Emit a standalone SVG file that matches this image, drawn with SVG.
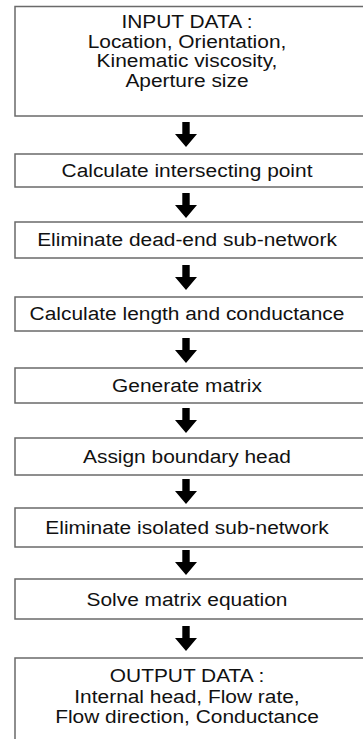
<svg xmlns="http://www.w3.org/2000/svg" xmlns:xlink="http://www.w3.org/1999/xlink" width="363" height="739" viewBox="0 0 363 739">
<style>
.box{fill:#fff;stroke:#6a6a6a;stroke-width:1.5}
.t{font-family:"Liberation Sans",Arial,sans-serif;font-size:19px;fill:#111;text-anchor:middle}
</style>
<defs>
<path id="arr" d="M-3.7,0 H3.7 V12 H11 L0,25 L-11,12 H-3.7 Z" fill="#000"/>
</defs>
<rect width="363" height="739" fill="#fff"/>
<g id="connectors">
<use xlink:href="#arr" x="186" y="122"/>
<use xlink:href="#arr" x="186" y="193"/>
<use xlink:href="#arr" x="186" y="265"/>
<use xlink:href="#arr" x="186" y="338"/>
<use xlink:href="#arr" x="186" y="408"/>
<use xlink:href="#arr" x="186" y="479"/>
<use xlink:href="#arr" x="186" y="550"/>
<use xlink:href="#arr" x="186" y="626"/>
</g>
<g id="n1"><rect class="box" x="15" y="6.5" width="360" height="109.5"/>
<g transform="matrix(1.1,0,0,1,-18.7,0)">
<text class="t" x="187" y="28.5">INPUT DATA :</text>
<text class="t" x="187" y="48">Location, Orientation,</text>
<text class="t" x="187" y="67.5">Kinematic viscosity,</text>
<text class="t" x="187" y="87">Aperture size</text></g></g>
<g id="n2"><rect class="box" x="15" y="154" width="360" height="33"/><text class="t" transform="matrix(1.1,0,0,1,-18.7,0)" x="187" y="177">Calculate intersecting point</text></g>
<g id="n3"><rect class="box" x="15" y="222" width="360" height="36"/><text class="t" transform="matrix(1.1,0,0,1,-18.7,0)" x="187" y="246.5">Eliminate dead-end sub-network</text></g>
<g id="n4"><rect class="box" x="15" y="297" width="360" height="34"/><text class="t" transform="matrix(1.1,0,0,1,-18.7,0)" x="187" y="320.5">Calculate length and conductance</text></g>
<g id="n5"><rect class="box" x="15" y="368" width="360" height="35"/><text class="t" transform="matrix(1.1,0,0,1,-18.7,0)" x="187" y="392">Generate matrix</text></g>
<g id="n6"><rect class="box" x="15" y="438" width="360" height="37"/><text class="t" transform="matrix(1.1,0,0,1,-18.7,0)" x="187" y="463">Assign boundary head</text></g>
<g id="n7"><rect class="box" x="15" y="508" width="360" height="39"/><text class="t" transform="matrix(1.1,0,0,1,-18.7,0)" x="187" y="534">Eliminate isolated sub-network</text></g>
<g id="n8"><rect class="box" x="15" y="579" width="360" height="40"/><text class="t" transform="matrix(1.1,0,0,1,-18.7,0)" x="187" y="606">Solve matrix equation</text></g>
<g id="n9"><rect class="box" x="15" y="658" width="360" height="100"/>
<g transform="matrix(1.1,0,0,1,-18.7,0)">
<text class="t" x="187" y="682">OUTPUT DATA :</text>
<text class="t" x="187" y="703">Internal head, Flow rate,</text>
<text class="t" x="187" y="723">Flow direction, Conductance</text></g></g>
</svg>
